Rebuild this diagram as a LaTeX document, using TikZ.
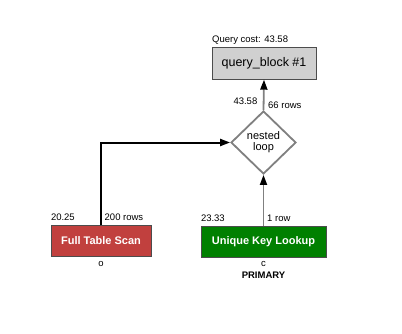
\documentclass[tikz,border=0pt]{standalone}
\usepackage{fontspec}
\setmainfont{Liberation Sans}
\usetikzlibrary{arrows.meta,shapes.geometric}
\definecolor{scanred}{RGB}{193,64,62}
\definecolor{lookupgreen}{RGB}{0,128,0}
\definecolor{blockgray}{RGB}{208,208,208}
\definecolor{edgegray}{RGB}{128,128,128}
\tikzset{
  op/.style={draw=black!70,fill=#1,text=white,font=\fontsize{11}{12}\selectfont\bfseries,
    minimum height=31pt,inner sep=0pt},
  block/.style={draw=black!70,fill=blockgray,font=\fontsize{12.5}{14}\selectfont,
    minimum width=104pt,minimum height=32pt,inner sep=0pt},
  loopjoin/.style={diamond,draw=edgegray,line width=1.8pt,fill=white,align=center,
    minimum width=65pt,minimum height=63pt,inner sep=0pt,font=\fontsize{11}{11}\selectfont},
  tag/.style={font=\fontsize{9.5}{10}\selectfont,inner sep=0pt},
  feed/.style={-{Triangle[length=10pt,width=7pt,black]},line width=#1},
  feed/.default=1pt,
}
\begin{document}
\begin{tikzpicture}[x=1pt,y=-1pt]
  \useasboundingbox (0,0) rectangle (402,333);
  % result block and join
  \node[block] (qb) at (264,63.5) {query\_block \#1};
  \node[tag,anchor=base west] (cost) at (212,42.5) {Query cost: 43.58};
  \node[loopjoin] (nl) at (263.5,142.5) {nested\\loop};
  % table access
  \node[op=scanred,minimum width=100pt] (fts) at (101,241) {Full Table Scan};
  \node[op=lookupgreen,minimum width=125pt] (ukl) at (263.5,241.5) {Unique Key Lookup};
  % costs and rows
  \foreach \n/\c/\r in {fts/20.25/200 rows,ukl/23.33/1 row}{
    \node[tag,anchor=base west] at ([yshift=4.5pt]\n.north west) {\c};
    \node[tag,anchor=base west] at ([xshift=3.5pt,yshift=4.5pt]\n.north) {\r};
  }
  \node[tag,anchor=base east] (nlcost) at ([xshift=-6pt,yshift=6pt]nl.north) {43.58};
  \node[tag,anchor=base west] (nlrows) at ([xshift=4.5pt,yshift=2pt]nl.north) {66 rows};
  \node[tag,anchor=base] (alias1) at ([yshift=-10pt]fts.south) {o};
  \node[tag,anchor=base] (alias2) at ([yshift=-9pt]ukl.south) {c};
  \node[tag,anchor=base,font=\fontsize{9.5}{10}\selectfont\bfseries] (key) at ([yshift=-12pt]alias2.base) {PRIMARY};
  % edges
  \draw[feed=2pt,black] (fts.north) |- (nl.west);
  \draw[feed=1.8pt,edgegray] (ukl.north) -- (nl.south);
  \draw[feed=1.8pt,edgegray] (nl.north) -- (qb.south);
\end{tikzpicture}
\end{document}
